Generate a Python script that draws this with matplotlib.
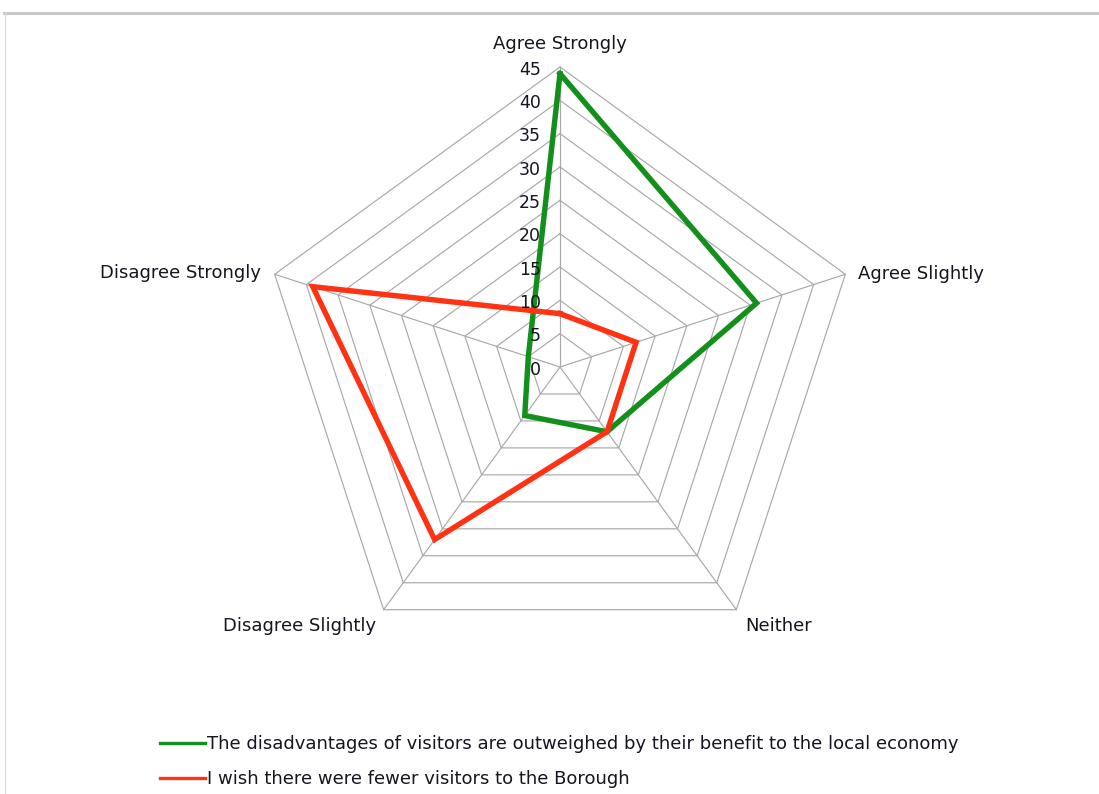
import numpy as np
import matplotlib
matplotlib.use("Agg")
import matplotlib.pyplot as plt
from matplotlib.lines import Line2D

categories = ["Agree Strongly", "Agree Slightly", "Neither", "Disagree Slightly", "Disagree Strongly"]
series_names = [
    "The disadvantages of visitors are outweighed by their benefit to the local economy",
    "I wish there were fewer visitors to the Borough",
]
green_values = [44, 31, 12, 9, 5]
red_values = [8, 12, 12, 32, 39]
ring_ticks = [0, 5, 10, 15, 20, 25, 30, 35, 40, 45]

W, H = 1099, 794
fig = plt.figure(figsize=(W / 100, H / 100), dpi=100)
fig.patch.set_facecolor("white")

cx, cy, R = 560, 367, 300
ax = fig.add_axes([(cx - R) / W, (H - cy - R) / H, 2 * R / W, 2 * R / H], projection="polar")
ax.set_theta_offset(np.pi / 2)
ax.set_theta_direction(-1)
ax.set_ylim(0, 45)
ax.grid(False)
ax.spines["polar"].set_visible(False)
ax.set_xticks([])
ax.set_yticks([])
ax.patch.set_alpha(0)

n = len(categories)
angles = np.arange(n) * 2 * np.pi / n
closed = np.concatenate([angles, angles[:1]])

grid_color = "#a9a9a9"
for r in ring_ticks[1:]:
    ax.plot(closed, [r] * (n + 1), color=grid_color, lw=0.85, zorder=1, clip_on=False)
for a in angles:
    ax.plot([a, a], [0, 45], color=grid_color, lw=0.85, zorder=1, clip_on=False)

green = "#13901c"
red = "#ff3314"
ax.plot(closed, green_values + green_values[:1], color=green, lw=3.9, zorder=3,
        clip_on=False, solid_joinstyle="miter")
ax.plot(closed, red_values + red_values[:1], color=red, lw=3.9, zorder=4,
        clip_on=False, solid_joinstyle="miter")

txt = "#15151f"
px = 0.72  # points per pixel
for v in ring_ticks:
    ax.annotate(str(v), xy=(0, v), xytext=(-19 * px, -2.5 * px), textcoords="offset points",
                ha="right", va="center", fontsize=12.5, color=txt, zorder=5)

label_specs = [
    (0, 23, "center", "center"),
    (13, 0, "left", "center"),
    (9, -16, "left", "center"),
    (-8, -16, "right", "center"),
    (-14, 1, "right", "center"),
]
for a, name, (dx, dy, ha, va) in zip(angles, categories, label_specs):
    ax.annotate(name, xy=(a, 45), xytext=(dx * px, dy * px), textcoords="offset points",
                ha=ha, va=va, fontsize=13, color=txt, annotation_clip=False)

handles = [Line2D([], [], color=green, lw=2.4), Line2D([], [], color=red, lw=2.4)]
leg = fig.legend(handles, series_names, loc="upper left",
                 bbox_to_anchor=(160 / W, 1 - 735 / H), frameon=False,
                 fontsize=13, handlelength=2.5, handletextpad=0.1,
                 labelspacing=0.95, borderpad=0, borderaxespad=0)
for t in leg.get_texts():
    t.set_color(txt)

fig.add_artist(Line2D([4 / W, 1], [1 - 13 / H, 1 - 13 / H], color="#c8c8c8", lw=2.2,
                      transform=fig.transFigure))
fig.add_artist(Line2D([4.5 / W, 4.5 / W], [0, 1 - 13 / H], color="#d9d9d9", lw=0.9,
                      transform=fig.transFigure))

fig.savefig("out.png", dpi=100, facecolor="white")
